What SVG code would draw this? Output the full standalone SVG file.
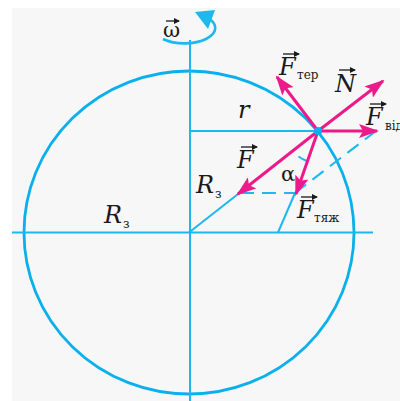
<svg xmlns="http://www.w3.org/2000/svg" width="400" height="401" viewBox="0 0 400 401">
<defs>
<marker id="mh" viewBox="0 0 20 14" refX="18" refY="7" markerWidth="20" markerHeight="14" markerUnits="userSpaceOnUse" orient="auto">
<path d="M0,0 L20,7 L0,14 L4,7 z" fill="#ec1a8a"/>
</marker>
<marker id="vh" viewBox="0 0 6 6" refX="5" refY="3" markerWidth="6" markerHeight="6" markerUnits="userSpaceOnUse" orient="auto">
<path d="M0,0 L6,3 L0,6 z" fill="#1a1a1a"/>
</marker>
<style>
.ax{stroke:#1cb8ee;stroke-width:2;fill:none}
.cir{stroke:#0ab0ee;stroke-width:2.8;fill:none}
.ds{stroke:#1cb8ee;stroke-width:2;fill:none;stroke-dasharray:14 8}
.f{stroke:#ec1a8a;stroke-width:3;fill:none;marker-end:url(#mh)}
.t{font-family:"DejaVu Serif","Liberation Serif",serif;font-style:italic;font-size:24px;fill:#1a1a1a}
.s{font-family:"DejaVu Serif","Liberation Serif",serif;font-size:12px;fill:#1a1a1a}
.g{font-family:"DejaVu Serif","Liberation Serif",serif;font-size:21px;fill:#1a1a1a}
.va{stroke:#1a1a1a;stroke-width:1.3;fill:none;marker-end:url(#vh)}
</style>
</defs>
<rect x="0" y="0" width="400" height="401" fill="#ffffff"/>
<rect x="12" y="8" width="388" height="393" fill="#f7f7f7"/>
<g id="earth">
<ellipse class="cir" cx="189" cy="232.5" rx="165" ry="161.5"/>
</g>
<g id="axes">
<line class="ax" x1="190" y1="40" x2="190" y2="401"/>
<line class="ax" x1="12" y1="232.5" x2="373" y2="232.5"/>
</g>
<g id="rotation">
<path d="M163,39 A28,14 0 1 0 206,17" stroke="#1cb8ee" stroke-width="2.6" fill="none"/>
<polygon points="195,12 215,10 208,29" fill="#1cb8ee"/>
<text class="g" x="163" y="37">ω</text>
<line class="va" x1="166" y1="21" x2="179" y2="21"/>
</g>
<g id="connectors">
<line class="ax" x1="190" y1="131" x2="318" y2="131"/>
<line class="ax" x1="189" y1="232.5" x2="240" y2="192.5"/>
<line class="ax" x1="295" y1="193" x2="278" y2="232.5"/>
<line class="ds" x1="240" y1="193" x2="295" y2="193"/>
<line class="ds" x1="295" y1="193" x2="376" y2="131"/>
<path d="M298.5,156.5 A32,32 0 0 0 307,161" stroke="#1cb8ee" stroke-width="2" fill="none"/>
<line class="f" x1="318" y1="131" x2="238" y2="194"/>
<line class="f" x1="318" y1="131" x2="296" y2="194"/>
<line class="f" x1="318" y1="131" x2="277" y2="77"/>
<line class="f" x1="318" y1="131" x2="383" y2="81"/>
<line class="f" x1="318" y1="131" x2="377" y2="131"/>
<circle cx="318" cy="131" r="4" fill="#0ab0ee"/>
</g>
<g id="labels">
<text class="t" x="238" y="118">r</text>
<text class="t" x="279" y="75">F</text><line class="va" x1="283" y1="54" x2="299" y2="54"/><text class="s" x="297" y="79">тер</text>
<text class="t" x="335" y="92">N</text><line class="va" x1="339" y1="70" x2="355" y2="70"/>
<text class="t" x="366" y="125">F</text><line class="va" x1="370" y1="104" x2="386" y2="104"/><text class="s" x="385" y="130">від</text>
<text class="t" x="237" y="168">F</text><line class="va" x1="241" y1="147" x2="257" y2="147"/>
<text class="t" x="196" y="193">R</text><text class="s" x="215" y="198">з</text>
<text class="g" x="281" y="181">α</text>
<text class="t" x="297" y="218">F</text><line class="va" x1="301" y1="197" x2="317" y2="197"/><text class="s" x="314" y="222">тяж</text>
<text class="t" x="104" y="223">R</text><text class="s" x="123" y="228">з</text>
</g>
</svg>
